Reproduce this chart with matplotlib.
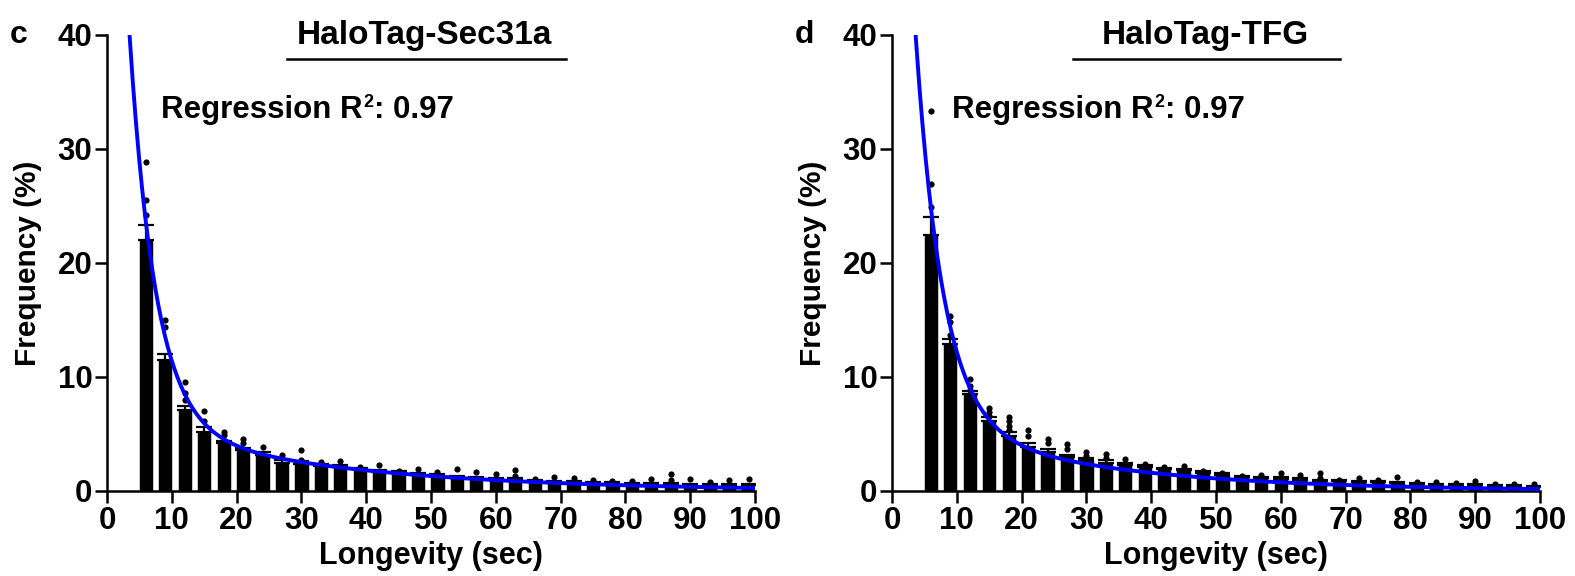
import numpy as np
import matplotlib
matplotlib.use("Agg")
import matplotlib.pyplot as plt

plt.rcParams['font.family'] = ['Liberation Sans', 'DejaVu Sans']
plt.rcParams['font.weight'] = 'bold'

# ---------------- data ----------------
longevity = [6, 9, 12, 15, 18, 21, 24, 27, 30, 33, 36, 39, 42, 45, 48, 51,
             54, 57, 60, 63, 66, 69, 72, 75, 78, 81, 84, 87, 90, 93, 96, 99]

sec31a_mean = [22.0, 11.5, 7.1, 5.2, 4.2, 3.6, 3.2, 2.5, 2.4, 2.2, 2.1, 1.9,
               1.7, 1.6, 1.4, 1.3, 1.2, 1.1, 1.0, 0.95, 0.85, 0.8, 0.75, 0.7,
               0.65, 0.6, 0.6, 0.6, 0.55, 0.5, 0.5, 0.5]
sec31a_sem = [1.3, 0.5, 0.4, 0.4, 0.2, 0.2, 0.2, 0.2, 0.2, 0.2, 0.2, 0.15,
              0.15, 0.15, 0.15, 0.15, 0.15, 0.15, 0.15, 0.15, 0.1, 0.1, 0.1, 0.1,
              0.1, 0.1, 0.1, 0.1, 0.1, 0.1, 0.1, 0.1]
sec31a_points = [[28.9, 25.5, 24.2], [15.0, 14.4], [9.6, 8.6, 8.0], [7.0, 6.1],
                 [5.2, 4.9], [4.6, 4.2], [3.9], [3.2], [3.6, 2.7], [2.57],
                 [2.66], [2.1], [2.28], [1.78], [1.93], [1.7], [1.93], [1.7],
                 [1.5], [1.84, 1.3], [1.08], [1.25], [1.14], [0.96], [0.9],
                 [0.92], [1.03], [1.5, 0.96], [1.03], [0.8], [0.96], [1.03]]

tfg_mean = [22.5, 12.9, 8.5, 6.1, 4.8, 3.9, 3.4, 3.0, 2.7, 2.5, 2.3, 2.1,
            1.9, 1.8, 1.6, 1.4, 1.2, 1.1, 1.05, 1.0, 0.9, 0.85, 0.8, 0.75,
            0.7, 0.6, 0.55, 0.5, 0.5, 0.4, 0.4, 0.35]
tfg_sem = [1.5, 0.4, 0.3, 0.4, 0.4, 0.3, 0.25, 0.2, 0.2, 0.2, 0.2, 0.15,
           0.15, 0.15, 0.15, 0.15, 0.15, 0.15, 0.15, 0.15, 0.1, 0.1, 0.1, 0.1,
           0.1, 0.1, 0.1, 0.1, 0.1, 0.1, 0.1, 0.1]
tfg_points = [[33.3, 26.9, 24.9], [15.35, 14.8, 13.7], [9.8, 9.2, 8.9],
              [7.25, 6.9, 6.6], [6.5, 6.1, 5.7, 5.35], [5.35, 4.8], [4.6, 4.2],
              [4.1, 3.7], [3.45, 3.1], [3.25, 2.9], [2.8], [2.35], [2.1],
              [2.2, 1.85], [1.75], [1.6], [1.3], [1.4], [1.55], [1.4],
              [1.55, 1.1], [1.0], [1.15], [0.96], [1.2], [0.8], [0.8], [0.7],
              [0.85], [0.6], [0.58], [0.6]]

# two-phase decay regression parameters (A, k_fast, B, k_slow)
sec31a_fit = [81.6, 0.25, 6.5, 0.032]
tfg_fit = [81.3, 0.24, 7.0, 0.037]

titles = ["HaloTag-Sec31a", "HaloTag-TFG"]
panel_letters = ["c", "d"]
xticks = [0, 10, 20, 30, 40, 50, 60, 70, 80, 90, 100]
yticks = [0, 10, 20, 30, 40]

# ---------------- figure ----------------
W, H = 1575, 576
fig = plt.figure(figsize=(W / 100, H / 100), dpi=100)

axes_px = [(107, 755), (892, 1540)]
y_bot, y_top = 491, 35

datasets = [(sec31a_mean, sec31a_sem, sec31a_points, sec31a_fit),
            (tfg_mean, tfg_sem, tfg_points, tfg_fit)]

for i, (l, r) in enumerate(axes_px):
    ax = fig.add_axes([l / W, 1 - y_bot / H, (r - l) / W, (y_bot - y_top) / H])
    mean, sem, pts, fit = datasets[i]
    ax.bar(longevity, mean, width=2.2, color='black', edgecolor='white',
           linewidth=0.4, zorder=2)
    ax.errorbar(longevity, mean, yerr=[np.zeros(len(sem)), sem], fmt='none',
                ecolor='black', elinewidth=1.6, capsize=5.5, capthick=1.6, zorder=3)
    px, py = [], []
    for xv, vals in zip(longevity, pts):
        for v in vals:
            px.append(xv)
            py.append(v)
    ax.scatter(px, py, s=20, color='black', zorder=4, linewidths=0)
    A, k1, B, k2 = fit
    xc = np.linspace(2.5, 100, 400)
    yc = A * np.exp(-k1 * xc) + B * np.exp(-k2 * xc)
    ax.plot(xc, yc, color='#0000ff', lw=2.8, zorder=5)

    ax.set_xlim(0, 100)
    ax.set_ylim(0, 40)
    ax.set_xticks(xticks)
    ax.set_yticks(yticks)
    for s in ['top', 'right']:
        ax.spines[s].set_visible(False)
    for s in ['left', 'bottom']:
        ax.spines[s].set_linewidth(1.8)
    ax.tick_params(axis='both', length=8.5, width=1.8, labelsize=22.5, pad=2)
    for lab in ax.get_xticklabels() + ax.get_yticklabels():
        lab.set_fontweight('bold')
    ax.set_xlabel("Longevity (sec)", fontsize=22, fontweight='bold', labelpad=4)
    ax.set_ylabel("Frequency (%)", fontsize=21.5, fontweight='bold', labelpad=11)

    # title with underline
    tx = 0.49 if i == 0 else 0.483
    ax.text(tx, 0.998, titles[i], transform=ax.transAxes, ha='center', va='center',
            fontsize=24, fontweight='bold')
    x0, x1 = (0.278, 0.708) if i == 0 else (0.279, 0.691)
    ax.plot([x0, x1], [0.947, 0.947], transform=ax.transAxes, color='black',
            lw=1.8, clip_on=False)
    rx = 0.083 if i == 0 else 0.092
    ax.text(rx, 0.835, "Regression R", transform=ax.transAxes, ha='left',
            va='center', fontsize=22.5, fontweight='bold')
    t = ax.texts[-1]
    fig.canvas.draw()
    bb = t.get_window_extent()
    inv = ax.transAxes.inverted()
    xe = inv.transform((bb.x1, bb.y1))
    ax.text(xe[0] + 0.001, 0.853, "2", transform=ax.transAxes, ha='left',
            va='center', fontsize=13, fontweight='bold')
    ax.text(xe[0] + 0.018, 0.835, ": 0.97", transform=ax.transAxes, ha='left',
            va='center', fontsize=22.5, fontweight='bold')

    fig.text((l - 97) / W, 1 - 35 / H, panel_letters[i], fontsize=23,
             fontweight='bold', ha='left', va='center')

fig.savefig("out.png", dpi=100)
